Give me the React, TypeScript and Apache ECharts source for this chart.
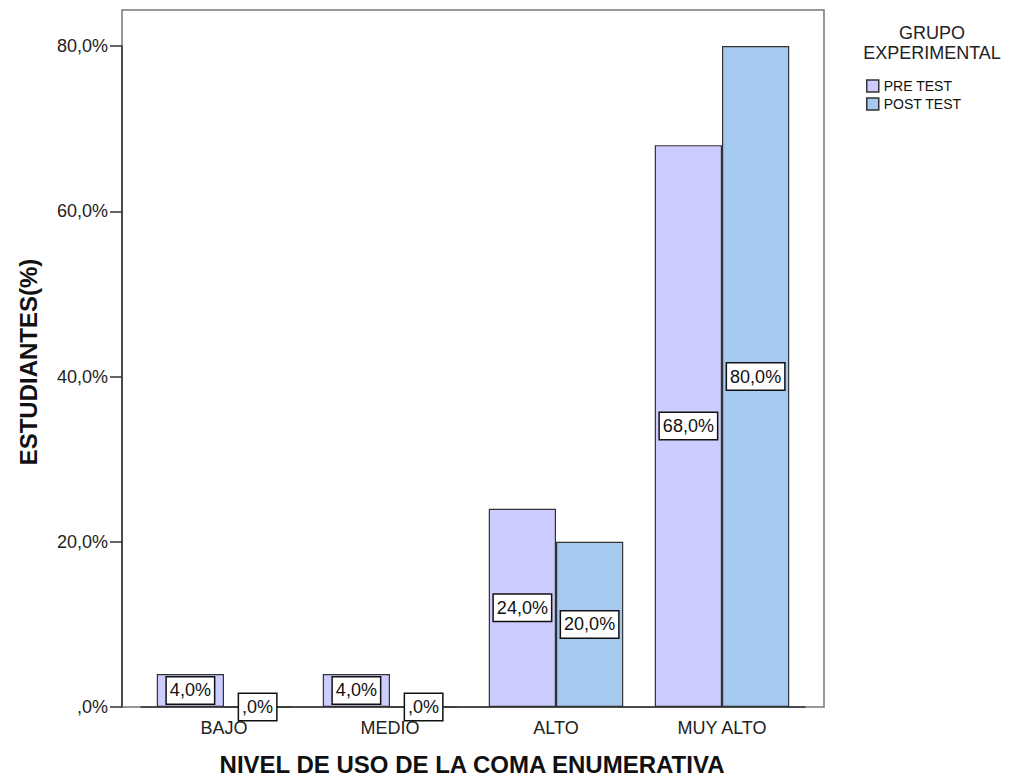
import React, { useEffect, useRef } from "react";
import * as echarts from "echarts";

const categories = ["BAJO", "MEDIO", "ALTO", "MUY ALTO"];
const preTest = [4.0, 4.0, 24.0, 68.0];
const postTest = [0.0, 0.0, 20.0, 80.0];
const seriesNames = ["PRE TEST", "POST TEST"];
const yTicks = [0, 20, 40, 60, 80];

const fmt = (v: number) => (v === 0 ? ",0%" : v.toFixed(1).replace(".", ",") + "%");

export default function App() {
  const ref = useRef<HTMLDivElement>(null);
  useEffect(() => {
    document.body.style.margin = "0";
    const chart = echarts.init(ref.current!, null, { renderer: "svg" });
    const font = "Arial, 'Liberation Sans', sans-serif";
    const label = {
      show: true,
      position: "inside",
      formatter: (p: any) => fmt(p.value),
      color: "#111",
      fontSize: 18,
      lineHeight: 19,
      fontFamily: font,
      backgroundColor: "#fff",
      borderColor: "#111",
      borderWidth: 1.5,
      padding: [4, 3, 3, 3],
    };
    chart.setOption({
      animation: false,
      textStyle: { fontFamily: font },
      grid: { left: 141, right: 214, top: 46, bottom: 71, containLabel: false },
      graphic: [
        {
          type: "rect",
          shape: { x: 122, y: 10, width: 702, height: 697 },
          style: { fill: "none", stroke: "#777", lineWidth: 1.5 },
          z: 0,
        },
        {
          type: "text",
          x: 932,
          y: 23,
          style: {
            text: "GRUPO\nEXPERIMENTAL",
            textAlign: "center",
            fontSize: 18,
            lineHeight: 20,
            fill: "#222",
            fontFamily: font,
          },
        },
        {
          type: "text",
          x: 472,
          y: 764,
          style: {
            text: "NIVEL DE USO DE LA COMA ENUMERATIVA",
            textAlign: "center",
            textVerticalAlign: "middle",
            fontSize: 24,
            fontWeight: "bold",
            fill: "#111",
            fontFamily: font,
          },
        },
        {
          type: "text",
          x: 28,
          y: 362,
          rotation: Math.PI / 2,
          style: {
            text: "ESTUDIANTES(%)",
            textAlign: "center",
            textVerticalAlign: "middle",
            fontSize: 24,
            fontWeight: "bold",
            fill: "#111",
            fontFamily: font,
          },
        },
      ],
      legend: {
        data: seriesNames,
        orient: "vertical",
        left: 866,
        top: 79,
        padding: 0,
        itemWidth: 12,
        itemHeight: 12,
        itemGap: 4,
        icon: "rect",
        itemStyle: { borderColor: "#333", borderWidth: 1.5 },
        textStyle: { fontSize: 14, color: "#111", fontFamily: font },
      },
      xAxis: {
        type: "category",
        data: categories,
        axisLine: { lineStyle: { color: "#333", width: 1.5 } },
        axisTick: { alignWithLabel: true, length: 7, lineStyle: { color: "#333", width: 1.5 } },
        axisLabel: { fontSize: 18, color: "#222", margin: 12 },
      },
      yAxis: {
        type: "value",
        min: 0,
        max: 80,
        interval: 20,
        offset: 19,
        axisLine: { show: true, lineStyle: { color: "#333", width: 1.5 } },
        axisTick: { show: true, length: 12, lineStyle: { color: "#333", width: 1.5 } },
        splitLine: { show: false },
        axisLabel: {
          fontSize: 18,
          color: "#222",
          margin: 14,
          formatter: (v: number) => (yTicks.includes(v) ? fmt(v) : ""),
        },
      },
      series: [
        {
          name: seriesNames[0],
          type: "bar",
          data: preTest,
          barGap: "0%",
          barCategoryGap: "19%",
          itemStyle: { color: "#ccccff", borderColor: "#333", borderWidth: 1.2 },
          label,
        },
        {
          name: seriesNames[1],
          type: "bar",
          data: postTest,
          barGap: "0%",
          barCategoryGap: "19%",
          itemStyle: { color: "#a6c9ef", borderColor: "#333", borderWidth: 1.2 },
          label,
        },
      ],
    });
    return () => chart.dispose();
  }, []);
  return <div ref={ref} style={{ width: 1019, height: 778 }} />;
}
